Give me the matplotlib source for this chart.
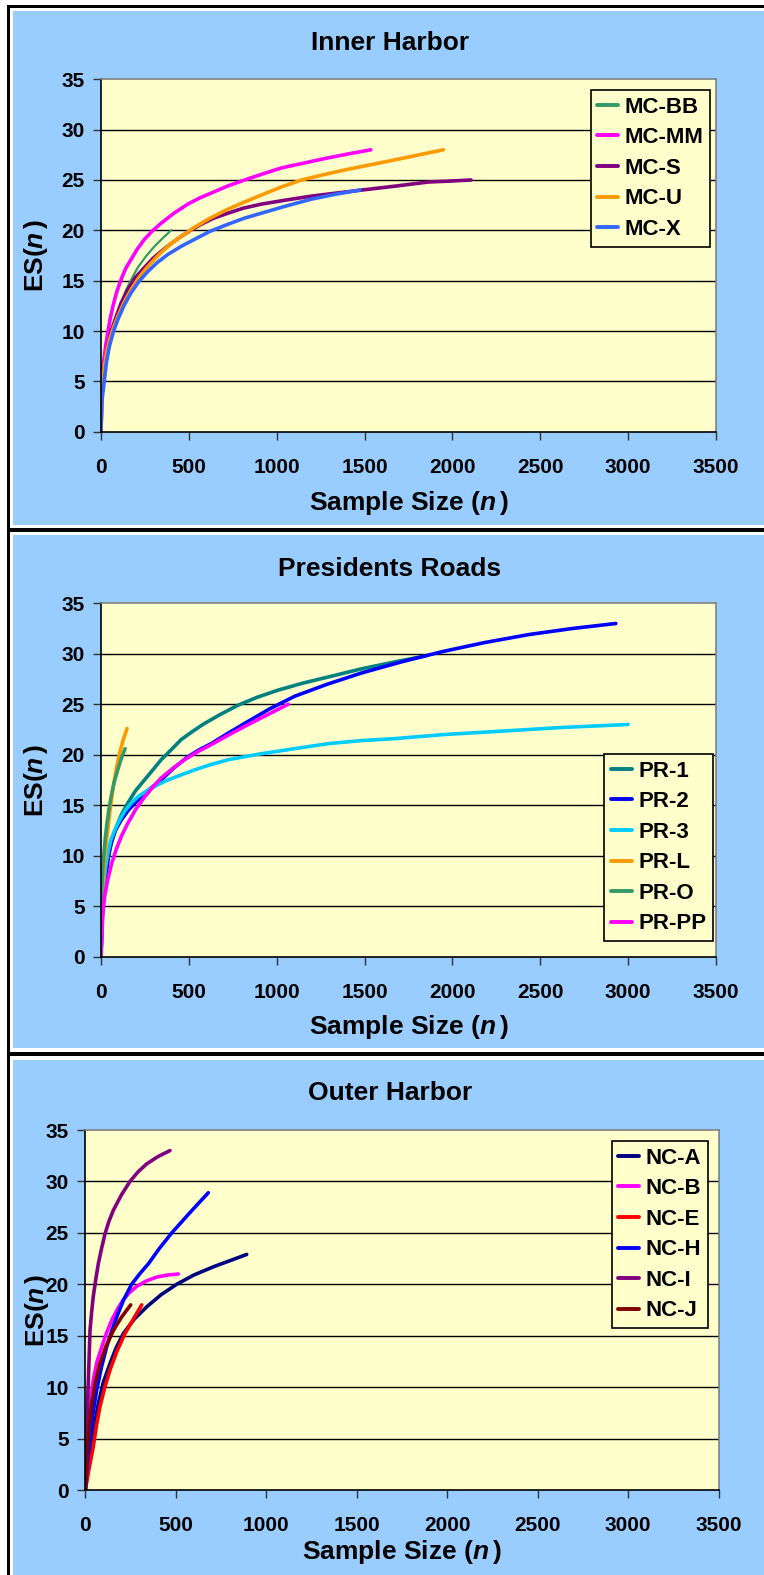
import matplotlib
matplotlib.use("Agg")
import matplotlib.pyplot as plt
from matplotlib.patches import Rectangle

# ---------------------------------------------
# Rarefaction curves, three harbor regions
# ---------------------------------------------

# Inner Harbor
mc_bb_n = [0, 5, 15, 26, 38, 60, 86, 115, 143, 175, 209, 255, 304, 350, 399]
mc_bb_es = [0, 3.8, 5.8, 7.3, 8.5, 10.1, 11.4, 12.8, 14.1, 15.2, 16.3, 17.4, 18.4, 19.2, 20.0]
mc_mm_n = [0, 4, 10, 19, 28, 38, 52, 67, 88, 114, 140, 171, 205, 247, 290, 342, 415, 494,
           560, 627, 720, 817, 920, 1027, 1160, 1293, 1410, 1536]
mc_mm_es = [0, 4.6, 6.4, 7.5, 8.7, 9.8, 11.2, 12.4, 13.8, 15.1, 16.2, 17.1, 18.1, 19.1, 19.9,
            20.7, 21.7, 22.6, 23.2, 23.7, 24.4, 25.0, 25.6, 26.2, 26.7, 27.2, 27.6, 28.0]
mc_s_n = [0, 5, 15, 26, 38, 60, 86, 115, 152, 195, 247, 295, 342, 400, 456, 510, 570, 640,
          722, 810, 912, 1050, 1198, 1340, 1483, 1680, 1863, 2000, 2106]
mc_s_es = [0, 3.8, 5.8, 7.3, 8.5, 10.1, 11.4, 12.8, 14.1, 15.3, 16.3, 17.2, 17.9, 18.7, 19.4,
           20.0, 20.6, 21.2, 21.7, 22.2, 22.6, 23.0, 23.4, 23.7, 24.0, 24.4, 24.8, 24.9, 25.0]
mc_u_n = [0, 5, 19, 32, 48, 70, 95, 130, 171, 215, 266, 330, 399, 465, 532, 620, 722, 815,
          912, 1025, 1141, 1260, 1388, 1530, 1673, 1810, 1949]
mc_u_es = [0, 3.6, 6.5, 7.9, 9.1, 10.3, 11.4, 12.8, 14.1, 15.3, 16.4, 17.6, 18.7, 19.5, 20.3,
           21.2, 22.1, 22.8, 23.5, 24.3, 25.0, 25.5, 26.0, 26.5, 27.0, 27.5, 28.0]
mc_x_n = [0, 5, 19, 32, 48, 70, 95, 130, 171, 215, 266, 320, 380, 455, 532, 620, 722, 815,
          912, 1050, 1198, 1340, 1473]
mc_x_es = [0, 3.0, 5.1, 7.0, 8.5, 9.9, 11.1, 12.5, 13.8, 14.9, 15.9, 16.8, 17.6, 18.4, 19.1,
           19.9, 20.6, 21.2, 21.7, 22.4, 23.1, 23.6, 24.0]

# Presidents Roads
pr_1_n = [0, 5, 20, 33, 48, 70, 95, 120, 152, 195, 247, 295, 342, 400, 456, 520, 589, 680,
          779, 890, 1008, 1150, 1293, 1480, 1673, 1850]
pr_1_es = [0, 3.5, 7.0, 8.9, 10.5, 12.0, 13.2, 14.2, 15.2, 16.4, 17.5, 18.5, 19.5, 20.5, 21.5,
           22.3, 23.1, 24.0, 24.9, 25.7, 26.4, 27.1, 27.7, 28.5, 29.2, 29.8]
pr_2_n = [0, 10, 29, 42, 57, 82, 114, 155, 209, 270, 342, 415, 494, 560, 627, 720, 817, 955,
          1103, 1290, 1483, 1710, 1939, 2180, 2433, 2680, 2930]
pr_2_es = [0, 5.0, 8.3, 9.9, 11.2, 12.5, 13.5, 14.5, 15.5, 16.5, 17.5, 18.7, 19.8, 20.5, 21.1,
           22.1, 23.1, 24.5, 25.8, 27.0, 28.1, 29.2, 30.2, 31.1, 31.9, 32.5, 33.0]
pr_3_n = [0, 10, 29, 42, 57, 80, 105, 135, 171, 215, 266, 320, 380, 455, 532, 620, 722, 815,
          912, 1100, 1293, 1480, 1673, 1950, 2243, 2620, 3000]
pr_3_es = [0, 6.6, 9.2, 10.5, 11.6, 12.6, 13.5, 14.4, 15.2, 15.9, 16.5, 17.0, 17.5, 18.0, 18.5,
           19.0, 19.5, 19.8, 20.1, 20.6, 21.1, 21.4, 21.6, 22.0, 22.3, 22.7, 23.0]
pr_l_n = [0, 4, 10, 19, 28, 38, 52, 67, 85, 105, 125, 148]
pr_l_es = [0, 5.0, 7.2, 9.2, 11.0, 12.5, 14.6, 16.5, 18.4, 20.1, 21.4, 22.6]
pr_o_n = [0, 4, 9, 15, 24, 34, 45, 57, 75, 95, 115, 137]
pr_o_es = [0, 6.6, 8.4, 9.9, 11.7, 13.2, 14.6, 15.8, 17.3, 18.5, 19.6, 20.6]
pr_pp_n = [0, 10, 22, 38, 60, 86, 118, 152, 198, 247, 295, 342, 405, 475, 550, 627, 720, 817,
           940, 1065]
pr_pp_es = [0, 4.3, 6.1, 7.6, 9.2, 10.6, 12.0, 13.2, 14.6, 15.8, 16.8, 17.7, 18.6, 19.5, 20.3,
            21.0, 21.9, 22.8, 23.9, 25.0]

# Outer Harbor
nc_a_n = [0, 15, 35, 52, 72, 100, 137, 170, 210, 270, 339, 420, 505, 600, 708, 800, 892]
nc_a_es = [0, 2.2, 4.2, 6.4, 8.4, 10.5, 12.3, 13.8, 15.2, 16.6, 17.8, 19.0, 20.0, 20.9, 21.7,
           22.3, 22.9]
nc_b_n = [0, 7, 17, 30, 44, 65, 91, 118, 146, 178, 210, 245, 284, 335, 394, 455, 514]
nc_b_es = [0, 3.8, 6.8, 9.0, 10.7, 12.5, 13.9, 15.3, 16.5, 17.6, 18.5, 19.2, 19.8, 20.3, 20.7,
           20.9, 21.0]
nc_e_n = [0, 20, 44, 62, 81, 108, 137, 175, 219, 265, 312]
nc_e_es = [0, 2.0, 4.2, 6.3, 8.1, 10.0, 11.7, 13.5, 15.2, 16.6, 18.0]
nc_h_n = [0, 12, 26, 44, 63, 90, 118, 145, 173, 212, 256, 300, 349, 410, 478, 580, 680]
nc_h_es = [0, 2.8, 5.2, 7.6, 9.7, 12.0, 13.9, 15.4, 16.8, 18.5, 20.0, 21.0, 22.0, 23.5, 25.0,
           27.0, 28.9]
nc_i_n = [0, 4, 7, 12, 17, 26, 35, 44, 58, 72, 90, 109, 130, 155, 200, 247, 290, 339, 400, 468]
nc_i_es = [0, 3.5, 5.9, 8.5, 10.7, 15.5, 17.3, 18.8, 20.5, 22.0, 23.5, 24.9, 26.1, 27.2, 28.7,
           30.0, 30.9, 31.7, 32.4, 33.0]
nc_j_n = [0, 5, 12, 22, 35, 55, 81, 115, 155, 200, 251]
nc_j_es = [0, 2.0, 4.2, 6.4, 8.4, 10.5, 12.3, 14.0, 15.5, 16.8, 18.0]

x_ticks = [0, 500, 1000, 1500, 2000, 2500, 3000, 3500]
y_ticks = [0, 5, 10, 15, 20, 25, 30, 35]

# -----------------------------
# Style
# -----------------------------
plt.rcParams['font.family'] = ['Liberation Sans', 'DejaVu Sans']
plt.rcParams['font.weight'] = 'bold'
plt.rcParams['mathtext.fontset'] = 'custom'
plt.rcParams['mathtext.it'] = 'Liberation Sans:italic:bold'
plt.rcParams['mathtext.rm'] = 'Liberation Sans:bold'

W, H = 764, 1575
BLUE = '#99CCFF'
YELLOW = '#FFFFCC'

fig = plt.figure(figsize=(W / 100, H / 100), dpi=100)
fig.patch.set_facecolor('white')


def px_box(l, t, r, b):
    return [l / W, 1 - b / H, (r - l) / W, (b - t) / H]


def fig_rect(l, t, r, b, color):
    fig.add_artist(Rectangle((l / W, 1 - b / H), (r - l) / W, (b - t) / H,
                             transform=fig.transFigure, facecolor=color,
                             edgecolor='none', zorder=0))


# blue chart areas and the black frame between them
fig_rect(13, 11, W, 525, BLUE)
fig_rect(13, 535, W, 1048, BLUE)
fig_rect(13, 1060, W, H, BLUE)
fig_rect(7, 5, W, 8, 'black')
fig_rect(7, 5, 10, H, 'black')
fig_rect(7, 528, W, 532, 'black')
fig_rect(7, 1052, W, 1056, 'black')

panels = [
    {
        'title': 'Inner Harbor', 'box': (101, 79.3, 716, 431.7), 'title_y': 43,
        'xlabel_y': 503, 'ylabel_x': 36,
        'legend_at': (590.5, 90),
        'series': [
            ('MC-BB', mc_bb_n, mc_bb_es, '#339966', 1.6),
            ('MC-MM', mc_mm_n, mc_mm_es, '#FF00FF', 2.6),
            ('MC-S', mc_s_n, mc_s_es, '#800080', 2.6),
            ('MC-U', mc_u_n, mc_u_es, '#FF9900', 2.6),
            ('MC-X', mc_x_n, mc_x_es, '#3366FF', 2.6),
        ],
    },
    {
        'title': 'Presidents Roads', 'box': (101, 603.3, 716, 956.7), 'title_y': 569,
        'xlabel_y': 1027, 'ylabel_x': 36,
        'legend_at': (604, 754),
        'series': [
            ('PR-1', pr_1_n, pr_1_es, '#008080', 2.6),
            ('PR-2', pr_2_n, pr_2_es, '#0000FF', 2.6),
            ('PR-3', pr_3_n, pr_3_es, '#00CCFF', 2.6),
            ('PR-L', pr_l_n, pr_l_es, '#FF9900', 2.6),
            ('PR-O', pr_o_n, pr_o_es, '#339966', 2.6),
            ('PR-PP', pr_pp_n, pr_pp_es, '#FF00FF', 2.6),
        ],
    },
    {
        'title': 'Outer Harbor', 'box': (85.3, 1130, 718.5, 1490), 'title_y': 1093,
        'xlabel_y': 1552, 'ylabel_x': 37,
        'legend_at': (611.5, 1141),
        'series': [
            ('NC-A', nc_a_n, nc_a_es, '#000080', 2.6),
            ('NC-B', nc_b_n, nc_b_es, '#FF00FF', 2.6),
            ('NC-E', nc_e_n, nc_e_es, '#FF0000', 2.6),
            ('NC-H', nc_h_n, nc_h_es, '#0000FF', 2.6),
            ('NC-I', nc_i_n, nc_i_es, '#800080', 2.6),
            ('NC-J', nc_j_n, nc_j_es, '#800000', 2.6),
        ],
    },
]

for p in panels:
    l, t, r, b = p['box']
    ax = fig.add_axes(px_box(l, t, r, b))
    ax.set_facecolor(YELLOW)

    for v in y_ticks[1:-1]:
        ax.axhline(v, color='black', lw=1.0, zorder=1)

    for name, xs, ys, color, lw in p['series']:
        ax.plot(xs, ys, color=color, lw=lw, label=name, zorder=2,
                solid_capstyle='round', solid_joinstyle='round')

    ax.set_xlim(0, 3500)
    ax.set_ylim(0, 35)
    ax.set_xticks(x_ticks)
    ax.set_yticks(y_ticks)
    ax.tick_params(axis='both', direction='out', length=5.8, width=1.0,
                   labelsize=15, color='#333333')
    ax.tick_params(axis='x', pad=13)
    ax.tick_params(axis='y', pad=6)
    for side in ['left', 'bottom']:
        ax.spines[side].set_color('black')
        ax.spines[side].set_linewidth(1.2)
    for side in ['top', 'right']:
        ax.spines[side].set_color('#808080')
        ax.spines[side].set_linewidth(1.2)

    lx, ly = p['legend_at']
    leg = ax.legend(loc='upper left', bbox_to_anchor=(lx / W, 1 - ly / H),
                    bbox_transform=fig.transFigure, fontsize=16, frameon=True,
                    fancybox=False, edgecolor='black', facecolor=YELLOW,
                    framealpha=1, borderaxespad=0, borderpad=0.3,
                    labelspacing=0.43, handlelength=0.95, handletextpad=0.3)
    leg.get_frame().set_linewidth(1.2)
    for line in leg.get_lines():
        line.set_linewidth(2.8)

    fig.text(390 / W, 1 - p['title_y'] / H, p['title'], ha='center',
             va='center', fontsize=19)
    fig.text(((l + r) / 2) / W, 1 - p['xlabel_y'] / H, 'Sample Size ($n\\,$)',
             ha='center', va='center', fontsize=19)
    fig.text(p['ylabel_x'] / W, 1 - ((t + b) / 2) / H, 'ES($n\\,$)',
             ha='center', va='center', rotation=90, fontsize=19)

fig.savefig('out.png', dpi=100)
